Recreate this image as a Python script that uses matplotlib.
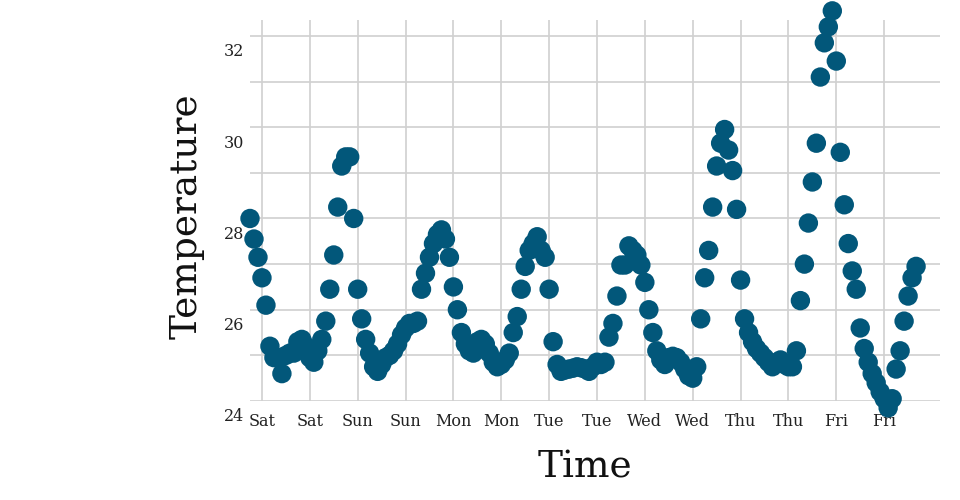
import numpy as np
import matplotlib
matplotlib.use("Agg")
import matplotlib.pyplot as plt
import matplotlib.transforms as mtransforms

# ---- data (hourly readings, starting 3 h before the first "Sat" tick) ----
start_hour = -3
temps = [
    28.0, 27.55, 27.15, 26.7, 26.1, 25.2, 24.95, 24.95, 24.6, 25.0, 25.05, 25.05,
    25.3, 25.35, 25.2, 24.95, 24.85, 25.1, 25.35, 25.75, 26.45, 27.2, 28.25, 29.15,
    29.35, 29.35, 28.0, 26.45, 25.8, 25.35, 25.05, 24.75, 24.65, 24.8, 24.95, 25.0,
    25.1, 25.25, 25.45, 25.6, 25.7, 25.7, 25.75, 26.45, 26.8, 27.15, 27.45, 27.65,
    27.75, 27.55, 27.15, 26.5, 26.0, 25.5, 25.25, 25.1, 25.05, 25.3, 25.35, 25.25,
    25.05, 24.85, 24.75, 24.8, 24.9, 25.05, 25.5, 25.85, 26.45, 26.95, 27.3, 27.45,
    27.6, 27.3, 27.15, 26.45, 25.3, 24.8, 24.65, 24.68, 24.7, 24.72, 24.75, 24.73,
    24.7, 24.65, 24.75, 24.85, 24.8, 24.85, 25.4, 25.7, 26.3, 26.98, 26.98, 27.4,
    27.3, 27.2, 26.98, 26.6, 26.0, 25.5, 25.1, 24.9, 24.8, 24.95, 24.98, 24.95,
    24.85, 24.7, 24.55, 24.5, 24.75, 25.8, 26.7, 27.3, 28.25, 29.15, 29.65, 29.95,
    29.5, 29.05, 28.2, 26.65, 25.8, 25.5, 25.3, 25.15, 25.05, 24.95, 24.85, 24.75,
    24.85, 24.9, 24.8, 24.75, 24.75, 25.1, 26.2, 27.0, 27.9, 28.8, 29.65, 31.1,
    31.85, 32.2, 32.55, 31.45, 29.45, 28.3, 27.45, 26.85, 26.45, 25.6, 25.15, 24.85,
    24.6, 24.4, 24.2, 24.05, 23.85, 24.05, 24.7, 25.1, 25.75, 26.3, 26.7, 26.95,
]
hours = np.arange(start_hour, start_hour + len(temps))

tick_hours = [0, 12, 24, 36, 48, 60, 72, 84, 96, 108, 120, 132, 144, 156]
tick_labels = ["Sat", "Sat", "Sun", "Sun", "Mon", "Mon", "Tue", "Tue",
               "Wed", "Wed", "Thu", "Thu", "Fri", "Fri"]
y_major = [24, 26, 28, 30, 32]
y_minor = [25, 27, 29, 31]

FONT = "DejaVu Serif"
DOT = "#02577a"
GRID = "#d0d0d0"

fig = plt.figure(figsize=(9.6, 5.0), dpi=100)
ax = fig.add_axes([250 / 960, 1 - 401 / 500, 690 / 960, 381 / 500])

ax.scatter(hours, temps, s=195, color=DOT, edgecolors="none", clip_on=False, zorder=3)

ax.set_xlim(-3, 170)
ax.set_ylim(24, 32.35)

ax.set_xticks(tick_hours)
ax.set_xticklabels(tick_labels)
ax.set_yticks(y_major)
ax.set_yticklabels([str(v) for v in y_major])
ax.set_yticks(y_minor, minor=True)

ax.grid(True, which="both", axis="y", color=GRID, linewidth=1.2, zorder=0)
ax.grid(True, which="major", axis="x", color=GRID, linewidth=1.2, zorder=0)
ax.set_axisbelow(True)

for s in ax.spines.values():
    s.set_visible(False)

ax.tick_params(axis="both", which="both", length=0)
ax.tick_params(axis="x", pad=8.5)
ax.tick_params(axis="y", pad=4)

for lab in ax.get_xticklabels():
    lab.set_fontfamily(FONT)
    lab.set_fontsize(11.5)
    lab.set_color("#222222")

for lab in ax.get_yticklabels():
    lab.set_fontfamily(FONT)
    lab.set_fontsize(11.5)
    lab.set_color("#222222")
    lab.set_va("center")
    dy = -16
    lab.set_transform(lab.get_transform() +
                      mtransforms.ScaledTranslation(0, dy / 100, fig.dpi_scale_trans))

fig.text(187 / 960, 1 - 216 / 500, "Temperature", rotation=90, ha="center", va="center",
         fontsize=27, fontfamily=FONT, color="#111111")
fig.text(585 / 960, 1 - 467 / 500, "Time", ha="center", va="center",
         fontsize=27, fontfamily=FONT, color="#111111")

fig.savefig("out.png", dpi=100)
